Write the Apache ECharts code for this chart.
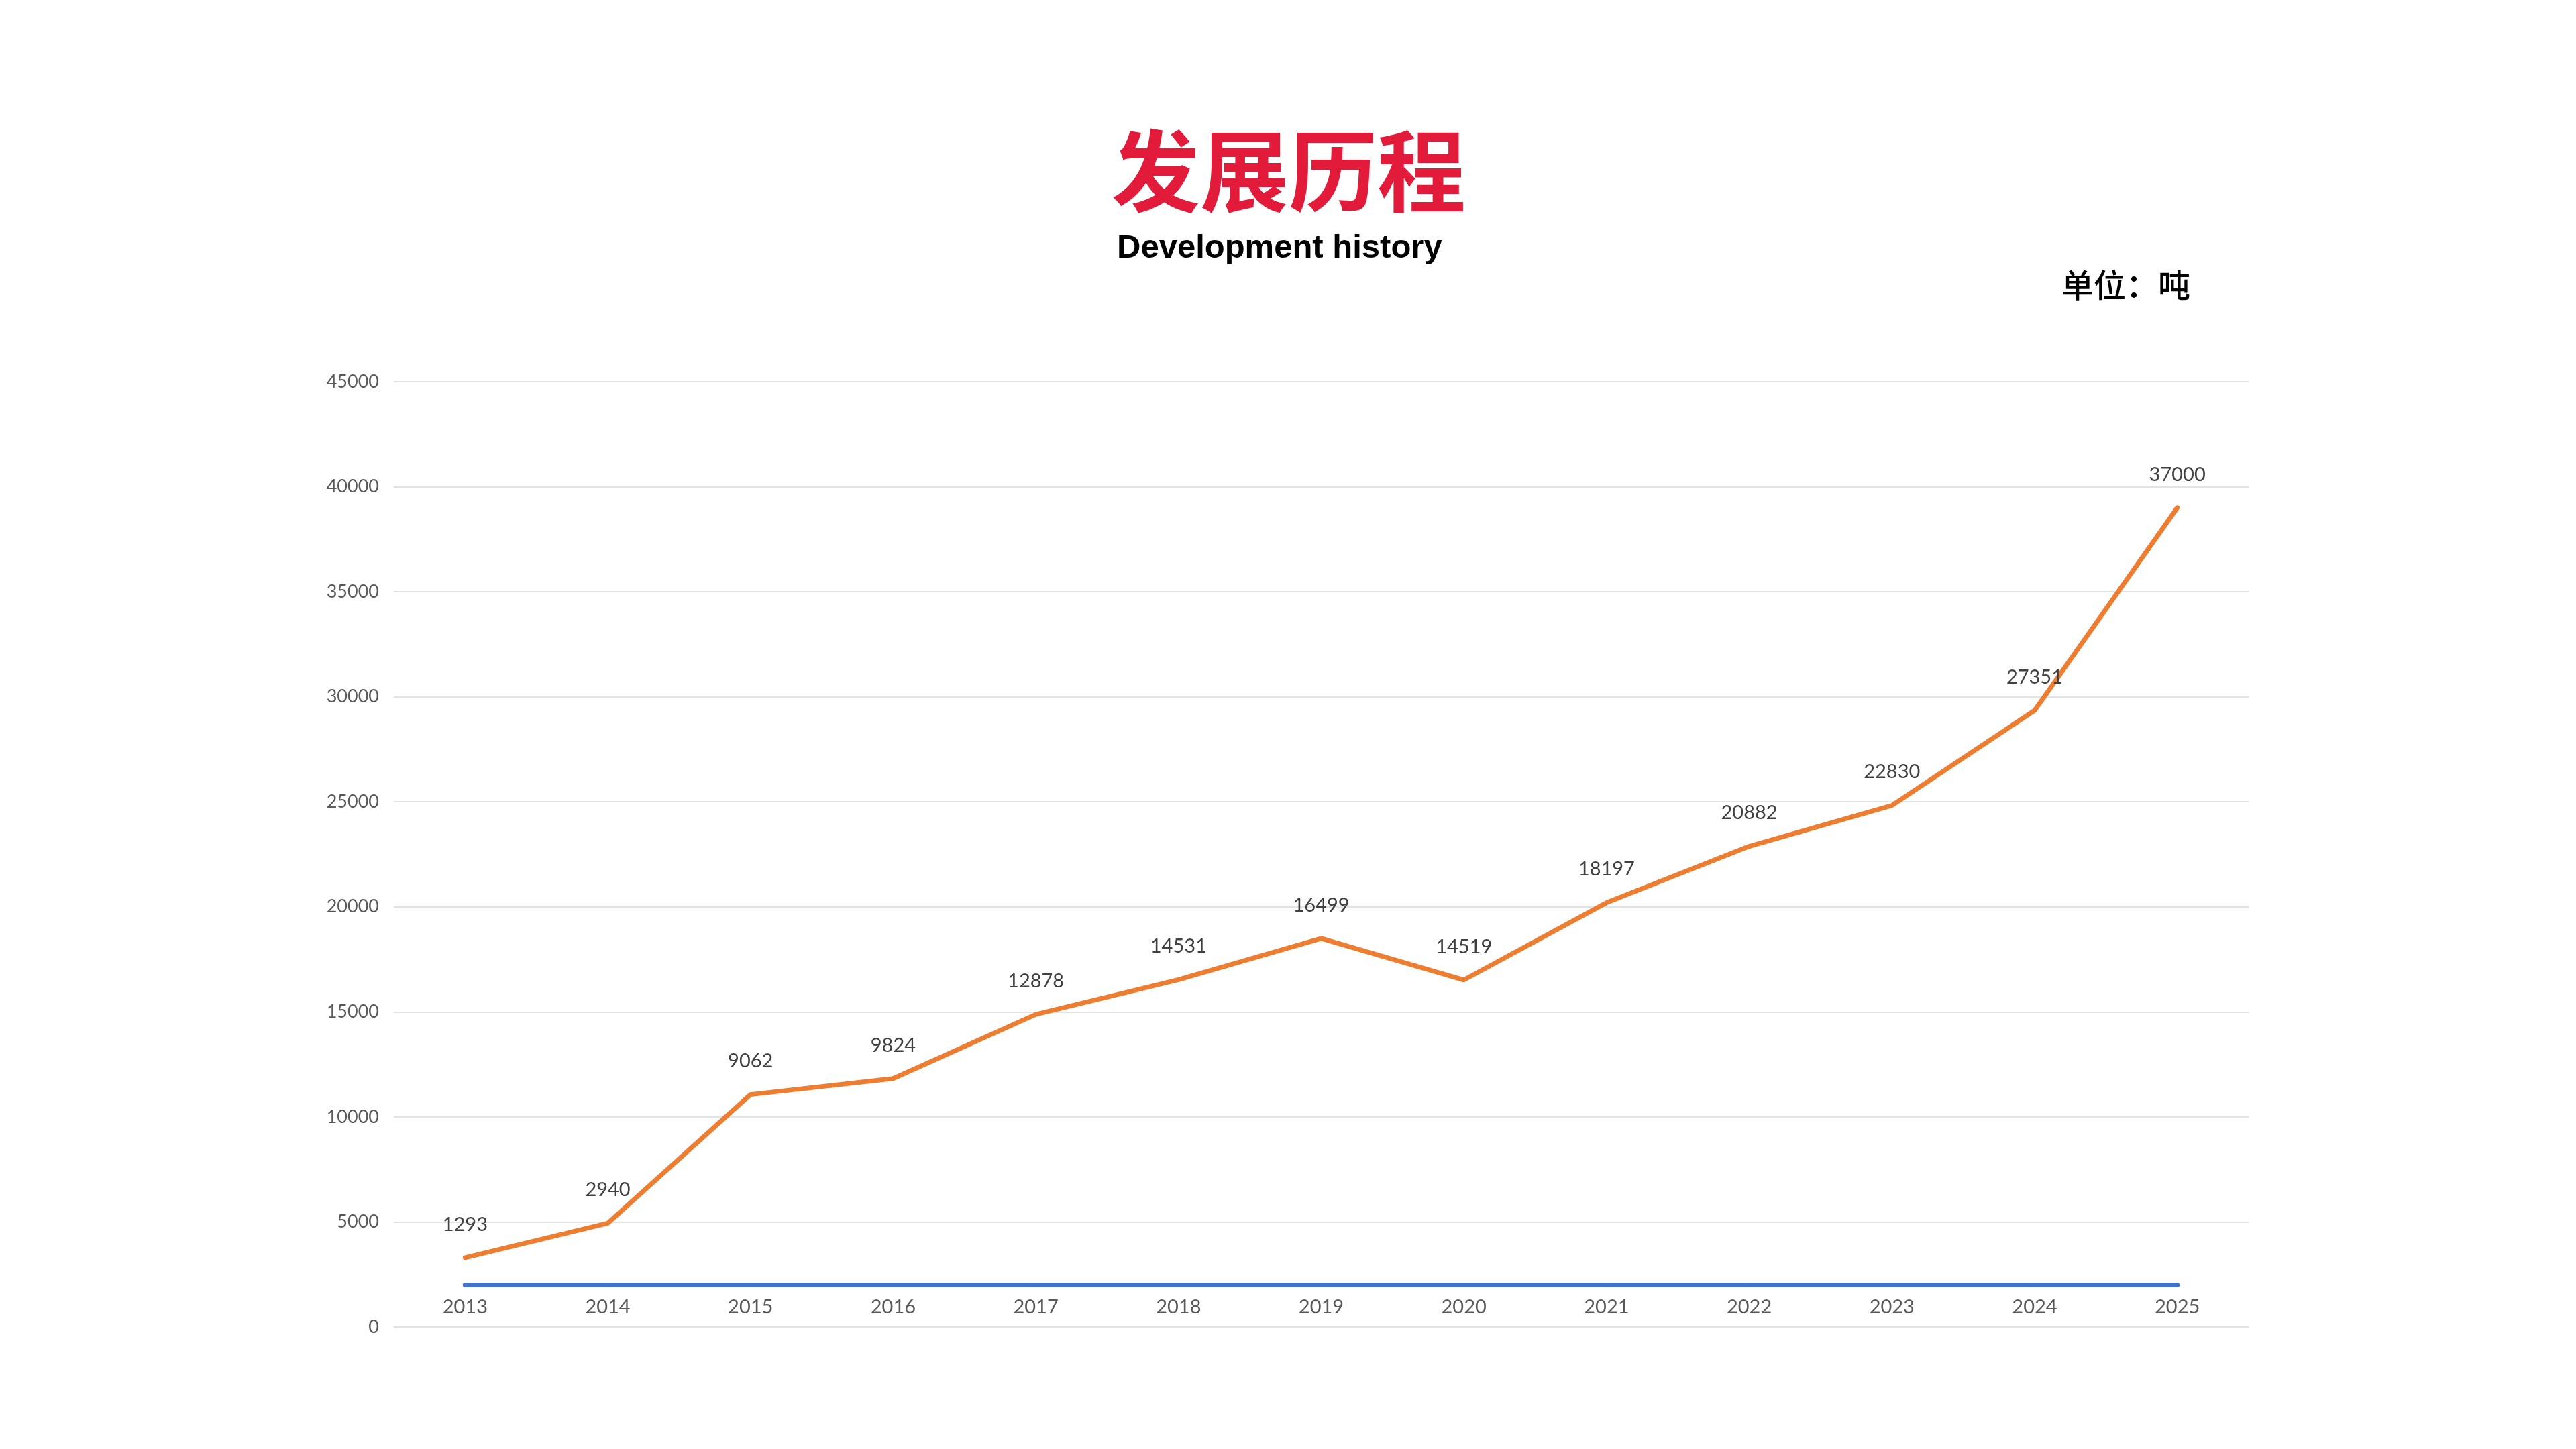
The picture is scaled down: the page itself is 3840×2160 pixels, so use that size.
<!DOCTYPE html>
<html>
<head>
<meta charset="utf-8">
<script src="https://cdn.jsdelivr.net/npm/echarts@6/dist/echarts.min.js"></script>
<style>
html,body{margin:0;padding:0;background:#fff;}
#chart{width:3840px;height:2160px;}
</style>
</head>
<body>
<div id="chart"></div>
<script>
const years = ['2013','2014','2015','2016','2017','2018','2019','2020','2021','2022','2023','2024','2025'];
const output = [1293, 2940, 9062, 9824, 12878, 14531, 16499, 14519, 18197, 20882, 22830, 27351, 37000];
const baseline = [2000, 2000, 2000, 2000, 2000, 2000, 2000, 2000, 2000, 2000, 2000, 2000, 2000];
const yTicks = { min: 0, max: 45000, interval: 5000 };

const chart = echarts.init(document.getElementById('chart'), null, { renderer: 'canvas' });
chart.setOption({
  backgroundColor: '#ffffff',
  animation: false,
  title: [
    {
      text: '发展历程',
      left: 1652, top: 184,
      textStyle: { fontSize: 132, lineHeight: 132, fontWeight: 'bold', color: '#E31B3B',
        fontFamily: '"Noto Sans CJK SC", sans-serif' }
    },
    {
      text: 'Development history',
      left: 1660, top: 340,
      textStyle: { fontSize: 49, lineHeight: 50, fontWeight: 'bold', color: '#000000',
        fontFamily: '"Liberation Sans", Arial, sans-serif' }
    },
    {
      text: '单位：吨',
      right: 570, top: 397,
      textStyle: { fontSize: 48, lineHeight: 46, fontWeight: 500, color: '#000000',
        fontFamily: '"Noto Sans CJK SC", sans-serif' }
    }
  ],
  grid: { left: 587, right: 488, top: 569, bottom: 182, containLabel: false },
  xAxis: {
    type: 'category',
    data: years,
    boundaryGap: true,
    axisLine: { show: false },
    axisTick: { show: false },
    axisLabel: { show: false },
    splitLine: { show: false }
  },
  yAxis: {
    type: 'value',
    min: yTicks.min, max: yTicks.max, interval: yTicks.interval,
    axisLine: { show: false },
    axisTick: { show: false },
    axisLabel: { fontSize: 27, color: '#595959', margin: 22, fontFamily: 'Lato, sans-serif',
      formatter: function (v) { return String(v); } },
    splitLine: { lineStyle: { color: '#E3E3E3', width: 2 } }
  },
  series: [
    {
      name: '基准',
      type: 'line',
      stack: 'total',
      data: baseline,
      symbol: 'circle',
      symbolSize: 2,
      showSymbol: true,
      itemStyle: { color: '#4472C4' },
      lineStyle: { color: '#4472C4', width: 7, cap: 'round' },
      label: {
        show: true, position: 'bottom', distance: 18,
        formatter: '{b}',
        fontSize: 29, color: '#595959', fontFamily: 'Lato, sans-serif'
      },
      z: 2
    },
    {
      name: '产量',
      type: 'line',
      stack: 'total',
      data: output,
      symbol: 'circle',
      symbolSize: 2,
      showSymbol: true,
      itemStyle: { color: '#ED7D31' },
      lineStyle: { color: '#ED7D31', width: 7, cap: 'round', join: 'round' },
      label: {
        show: true, position: 'top', distance: 34,
        formatter: '{c}',
        fontSize: 29, color: '#404040', fontFamily: 'Lato, sans-serif'
      },
      z: 3
    }
  ]
});
</script>
</body>
</html>
